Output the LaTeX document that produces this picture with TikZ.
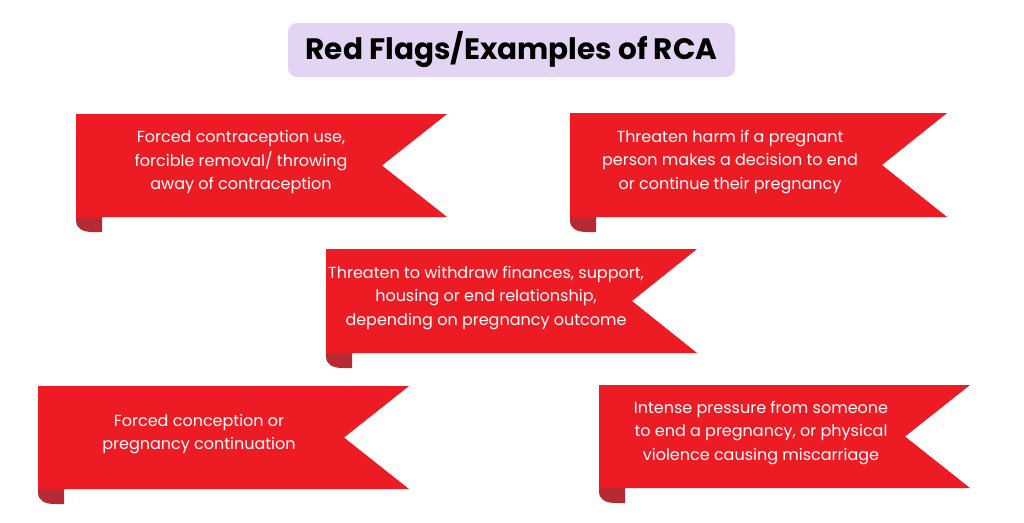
\documentclass[tikz,border=0pt]{standalone}
\usepackage{fontspec}
\setmainfont{Poppins}
\definecolor{vermelho}{HTML}{ED1C24}
\definecolor{dobra}{HTML}{B52A33}
\definecolor{lilas}{HTML}{E3D4F3}
\tikzset{
  faixa/.style={fill=vermelho, draw=none},
  dobraf/.style={fill=dobra, draw=none},
  texto/.style={text=white, align=center, font=\fontsize{16}{23.5}\selectfont, inner sep=0pt},
  titulo/.style={fill=lilas, rounded corners=9pt, minimum width=447pt, minimum height=54pt, font=\fontsize{29.5}{32}\selectfont\bfseries, text=black}
}
% faixa: esquerda, topo, base, ponta, entalhe
\newcommand{\faixa}[5]{%
  \fill[dobraf] (#1,#3) -- (#1,#3+3) .. controls (#1,#3+12) and (#1+7,#3+15) .. (#1+17,#3+15) -- (#1+26,#3+15) -- (#1+26,#3) -- cycle;
  \fill[faixa] (#1,#2) -- (#4,#2) -- (#5,{(#2+#3)/2}) -- (#4,#3) -- (#1,#3) -- cycle;
}
\begin{document}
\begin{tikzpicture}[x=1pt, y=-1pt]  %Escala em pixels
    \useasboundingbox[fill=white] (0,0) rectangle (1024,522);
        %Titulo
    \node[titulo] (titulo) at (511.5,50) {Red Flags/Examples of RCA};
        %Faixas
    \faixa{76}{114}{217}{447}{382}
    \faixa{570}{113}{217}{947}{882}
    \faixa{326}{249}{353}{697}{632}
    \faixa{38}{386}{489}{409}{344}
    \faixa{599}{385}{488}{970}{905}
        %Textos
    \node[texto] (t1) at (241,162) {Forced contraception use,\\forcible removal/ throwing\\away of contraception};
    \node[texto] (t2) at (730,162) {Threaten harm if a pregnant\\person makes a decision to end\\or continue their pregnancy};
    \node[texto] (t3) at (486,298) {Threaten to withdraw finances, support,\\housing or end relationship,\\depending on pregnancy outcome};
    \node[texto] (t4) at (199,434) {Forced conception or\\pregnancy continuation};
    \node[texto] (t5) at (761,433) {Intense pressure from someone\\to end a pregnancy, or physical\\violence causing miscarriage};
\end{tikzpicture}
\end{document}
